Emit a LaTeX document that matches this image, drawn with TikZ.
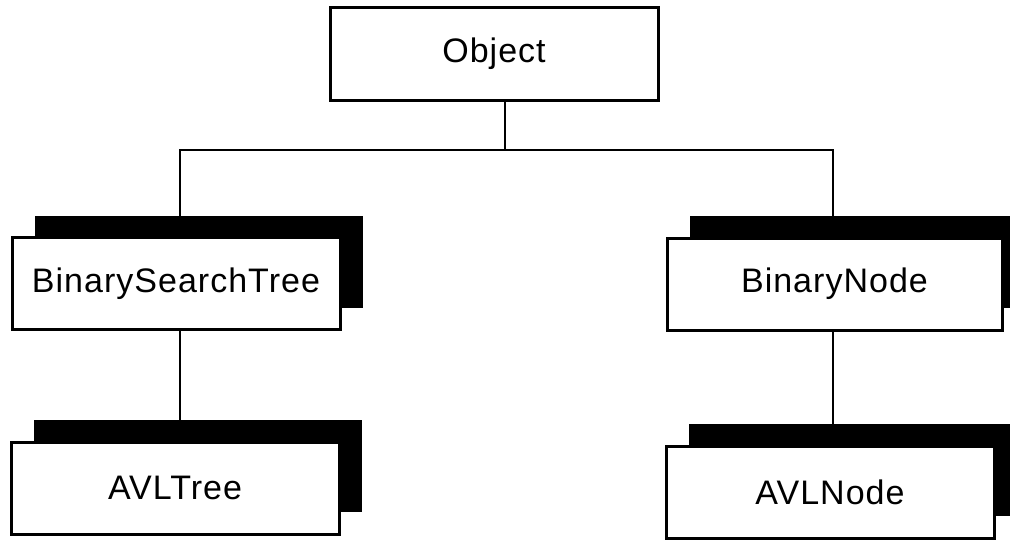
\documentclass[tikz,border=0pt]{standalone}
\usepackage{fontspec}
\setmainfont{Liberation Sans}[LetterSpace=3]
\usetikzlibrary{shadows}

\begin{document}
\begin{tikzpicture}[x=1pt,y=-1pt]
	\tikzstyle{cls} = [rectangle,draw,line width=3pt,fill=white,minimum width=328pt,minimum height=92pt,
		font=\fontsize{34}{40}\selectfont,
		general shadow={fill=black,shadow xshift=23pt,shadow yshift=22pt}]
	\tikzstyle{root} = [rectangle,draw,line width=3pt,fill=white,minimum width=328pt,minimum height=93pt,
		font=\fontsize{34}{40}\selectfont]
	\tikzstyle{link} = [line width=2pt]
	
	\useasboundingbox (0,0) rectangle (1010,539);
	
	\node[root] (obj) at (494,53.5) {Object};
	\node[cls] (bst) at (176,283.5) {BinarySearchTree};
	\node[cls,minimum width=335pt] (bnode) at (834.5,284) {BinaryNode};
	\node[cls] (avlt) at (175,488) {AVLTree};
	\node[cls] (avln) at (830,492) {AVLNode};
	
	\draw[link] ([xshift=11pt]obj.south) -- ++(0,48);
	\draw[link] ([xshift=4pt]bst.north) |- ([yshift=-48pt]obj.south) -| ([xshift=-2pt]bnode.north);
	\draw[link] ([xshift=4pt]bst.south) -- ([xshift=4pt]bst.south |- avlt.north);
	\draw[link] ([xshift=-2pt]bnode.south) -- ([xshift=-2pt]bnode.south |- avln.north);
\end{tikzpicture}
\end{document}
